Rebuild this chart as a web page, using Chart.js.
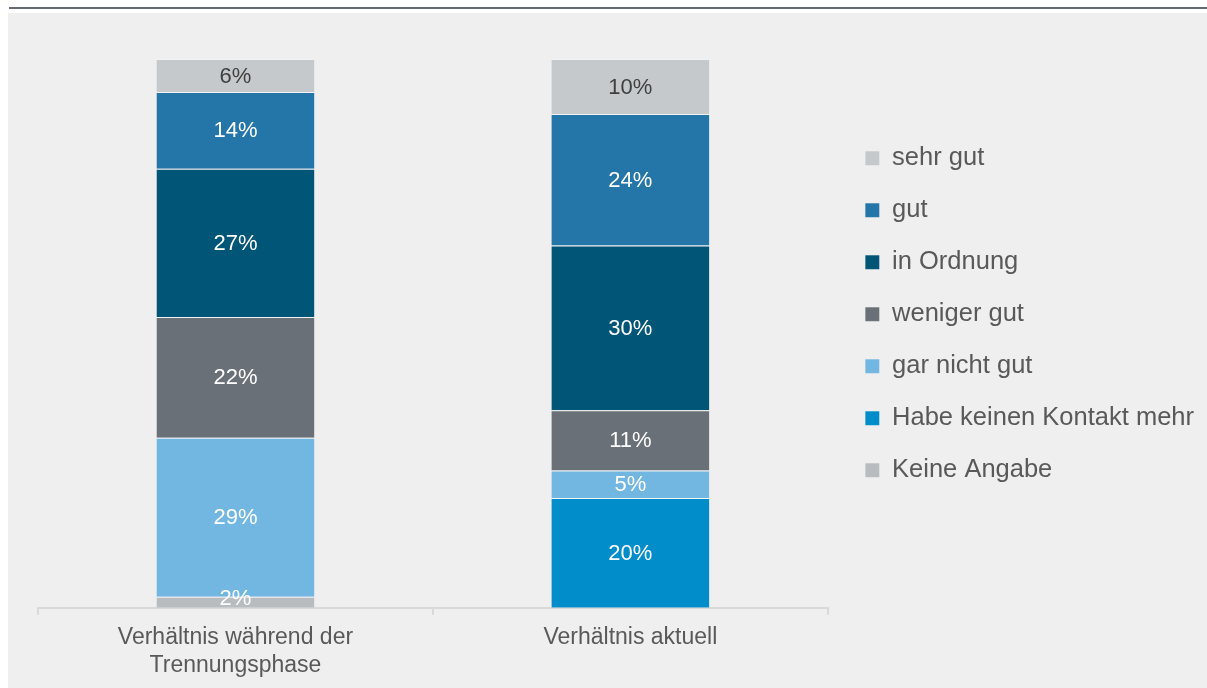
<!DOCTYPE html>
<html lang="de">
<head>
<meta charset="utf-8">
<script src="https://cdn.jsdelivr.net/npm/chart.js@4/dist/chart.umd.min.js"></script>
<style>
  html, body { margin: 0; padding: 0; background: #ffffff; }
  body { width: 1207px; height: 688px; position: relative; overflow: hidden; }
  #rule { position: absolute; left: 9px; top: 7px; width: 1198px; height: 2px; background: #646b73; }
  #panel { position: absolute; left: 8px; top: 13px; width: 1199px; height: 675px; background: #efefef; }
  #panel canvas { display: block; }
</style>
</head>
<body>
<div id="rule"></div>
<div id="panel"><canvas id="chart" width="1199" height="675"></canvas></div>
<script>
// Kategorien (Balken)
const categories = [["Verhältnis während der", "Trennungsphase"], "Verhältnis aktuell"];

// Antwortkategorien, von unten nach oben gestapelt
const seriesNames = ["Keine Angabe", "Habe keinen Kontakt mehr", "gar nicht gut", "weniger gut", "in Ordnung", "gut", "sehr gut"];
const keineAngabe   = [2, 0];
const keinKontakt   = [0, 20];
const garNichtGut   = [29, 5];
const wenigerGut    = [22, 11];
const inOrdnung     = [27, 30];
const gut           = [14, 24];
const sehrGut       = [6, 10];

const seriesColors = ["#b8bcbf", "#008dca", "#72b7e1", "#6a7077", "#015577", "#2475a8", "#c6c9cc"];
const labelColors  = ["#ffffff", "#ffffff", "#ffffff", "#ffffff", "#ffffff", "#ffffff", "#404040"];

const seriesValues = [keineAngabe, keinKontakt, garNichtGut, wenigerGut, inOrdnung, gut, sehrGut];

const FONT = "'Liberation Sans', Arial, sans-serif";
const LABEL_SIZE = 22;

// Prozentwerte mittig in die Segmente schreiben
const segmentLabels = {
  id: "segmentLabels",
  afterDatasetsDraw(chart) {
    const ctx = chart.ctx;
    ctx.save();
    ctx.font = LABEL_SIZE + "px " + FONT;
    ctx.textAlign = "center";
    ctx.textBaseline = "middle";
    chart.data.datasets.forEach((ds, i) => {
      const meta = chart.getDatasetMeta(i);
      if (meta.hidden) return;
      meta.data.forEach((bar, j) => {
        const v = ds.data[j];
        if (!v) return;
        const p = bar.getCenterPoint();
        // sehr schmale Segmente: Text oberhalb der Basis halten
        const y = Math.min(p.y + 1, bar.base - 9);
        ctx.fillStyle = labelColors[i];
        ctx.fillText(v + "%", p.x, y);
      });
    });
    ctx.restore();
  }
};

// Legende etwas vom Diagrammbereich abrücken und vertikal setzen
const legendPlacement = {
  id: "legendPlacement",
  afterLayout(chart) {
    const lg = chart.legend;
    if (!lg) return;
    const dx = chart.chartArea.right + 11 - lg.left;
    const top = 106;
    const h = lg.bottom - lg.top;
    lg.left += dx; lg.right += dx;
    lg.top = top; lg.bottom = top + h;
  }
};

new Chart(document.getElementById("chart"), {
  type: "bar",
  data: {
    labels: categories,
    datasets: seriesNames.map((name, i) => ({
      label: name,
      data: seriesValues[i],
      backgroundColor: seriesColors[i],
      borderColor: "rgba(255,255,255,0.25)",
      borderWidth: { top: 1 },
      borderSkipped: false,
      categoryPercentage: 0.8,
      barPercentage: 0.5
    }))
  },
  options: {
    responsive: false,
    animation: false,
    layout: { padding: { top: 46, left: 30, right: 14, bottom: 0 } },
    scales: {
      x: {
        stacked: true,
        grid: { display: true, drawOnChartArea: false, drawTicks: true, tickLength: 7, offset: true, color: "#d9d9d9", lineWidth: 2 },
        border: { display: true, color: "#d9d9d9", width: 2 },
        ticks: { color: "#595959", font: { family: FONT, size: 23, lineHeight: 1.2 }, padding: 9, maxRotation: 0 }
      },
      y: {
        stacked: true,
        min: 0,
        max: 100,
        display: false
      }
    },
    plugins: {
      legend: {
        position: "right",
        align: "start",
        reverse: true,
        labels: {
          color: "#595959",
          font: { family: FONT, size: 25.5 },
          boxWidth: 14,
          boxHeight: 14,
          padding: 26.5
        }
      },
      tooltip: { enabled: false }
    }
  },
  plugins: [segmentLabels, legendPlacement]
});
</script>
</body>
</html>
